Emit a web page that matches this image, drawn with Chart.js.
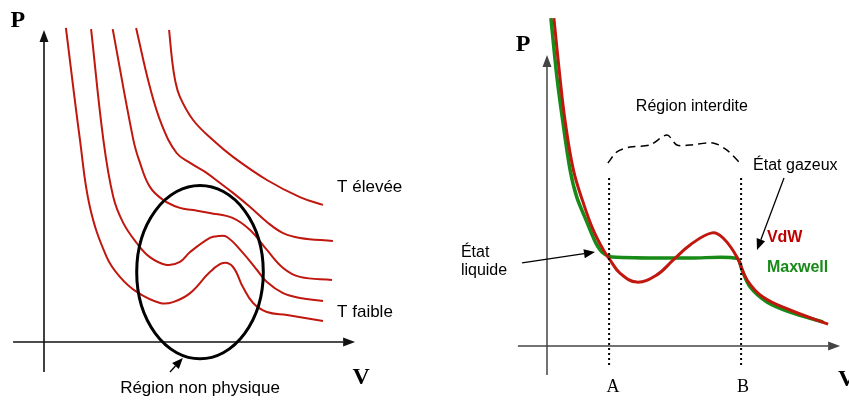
<!DOCTYPE html>
<html>
<head>
<meta charset="utf-8">
<script src="https://cdn.jsdelivr.net/npm/chart.js@4/dist/chart.umd.min.js"></script>
<style>
  body { margin: 0; background: #fff; }
  #wrap { position: relative; width: 849px; height: 401px; }
  canvas { position: absolute; top: 0; }
</style>
</head>
<body>
<div id="wrap">
  <canvas id="left" width="430" height="401" style="left:0"></canvas>
  <canvas id="right" width="419" height="401" style="left:430px"></canvas>
</div>
<script>
// Left panel: five isotherms, V and P in arbitrary units (lowest T first)
const t1V = [0.73, 1.2, 1.53, 2.09, 2.53, 3.09, 3.87, 4.3, 4.87, 5.53, 5.97, 6.3, 6.63, 6.97, 7.43, 8.1, 9.3];
const t1P = [10.47, 6.73, 4.5, 2.83, 2.17, 1.67, 1.3, 1.33, 1.63, 2.33, 2.63, 2.5, 1.83, 1.3, 1.0, 0.9, 0.7];
const t2V = [1.57, 1.98, 2.31, 2.64, 3.09, 3.53, 4.09, 4.53, 4.87, 5.53, 5.8, 6.1, 6.63, 7.1, 7.43, 7.97, 8.53, 9.3];
const t2P = [10.43, 6.73, 4.83, 3.97, 3.3, 2.83, 2.57, 2.67, 3.0, 3.47, 3.53, 3.5, 2.97, 2.4, 2.0, 1.63, 1.47, 1.37];
const t3V = [2.29, 2.98, 3.2, 3.53, 3.98, 4.53, 4.97, 5.53, 6.3, 6.87, 7.43, 7.97, 8.53, 9.6];
const t3P = [10.43, 6.73, 5.97, 5.17, 4.73, 4.47, 4.4, 4.3, 4.13, 3.73, 3.07, 2.47, 2.17, 2.07];
const t4V = [3.07, 3.53, 3.93, 4.42, 4.87, 5.37, 5.87, 6.3, 6.87, 7.43, 7.97, 8.53, 9.63];
const t4P = [10.47, 8.5, 7.23, 6.3, 5.97, 5.67, 5.3, 4.97, 4.5, 4.0, 3.63, 3.47, 3.37];
const t5V = [4.17, 4.27, 4.37, 4.53, 4.97, 5.63, 6.3, 7.43, 8.53, 9.3];
const t5P = [10.4, 9.4, 8.73, 8.17, 7.4, 6.73, 6.17, 5.4, 4.83, 4.57];

// Right panel: Van der Waals isotherm and Maxwell plateau
const vdwV = [0.23, 0.43, 0.6, 0.88, 1.21, 1.54, 1.88, 2.1, 2.43, 2.99, 3.66, 4.21, 4.77, 5.5, 5.87, 6.33, 6.67, 7.2, 8.1, 9.37];
const vdwP = [10.93, 8.97, 7.53, 5.87, 4.77, 3.87, 3.2, 2.87, 2.43, 2.13, 2.37, 2.87, 3.37, 3.77, 3.6, 2.97, 2.2, 1.63, 1.2, 0.73];
const maxV = [0.13, 0.33, 0.52, 0.77, 0.99, 1.33, 1.63, 1.87, 2.17, 4.77, 6.33, 6.5, 6.77, 7.33, 8.1, 9.2];
const maxP = [10.93, 8.97, 7.53, 5.87, 4.97, 4.13, 3.43, 3.1, 2.97, 2.93, 2.92, 2.53, 1.97, 1.47, 1.13, 0.8];
const braceV = [2.03, 2.33, 2.77, 3.43, 4.0, 4.33, 4.77, 5.53, 6.0, 6.43];
const braceP = [6.1, 6.47, 6.63, 6.7, 7.03, 6.7, 6.7, 6.77, 6.53, 6.1];
const pointA = 2.07;
const pointB = 6.47;

const pts = (vs, ps) => vs.map((v, i) => ({ x: v, y: ps[i] }));

const RED = "#c0170f";
const GREEN = "#178a17";
const SANS = "'Liberation Sans', Arial, sans-serif";
const SERIF = "'Liberation Serif', 'Times New Roman', serif";

function arrowHead(ctx, x1, y1, x2, y2, len, half) {
  const a = Math.atan2(y2 - y1, x2 - x1);
  const bx = x2 - len * Math.cos(a), by = y2 - len * Math.sin(a);
  ctx.beginPath();
  ctx.moveTo(x1, y1);
  ctx.lineTo(bx, by);
  ctx.stroke();
  ctx.beginPath();
  ctx.moveTo(x2, y2);
  ctx.lineTo(bx + half * Math.sin(a), by - half * Math.cos(a));
  ctx.lineTo(bx - half * Math.sin(a), by + half * Math.cos(a));
  ctx.closePath();
  ctx.fill();
}

// draws axes with arrows, texts, arrows and ellipse, all placed through the scales
const decor = {
  id: "decor",
  beforeDatasetsDraw(chart, args, opts) {
    const { ctx, scales: { x, y } } = chart;
    const ax = opts.axes;
    ctx.save();
    ctx.strokeStyle = ax.color;
    ctx.fillStyle = ax.color;
    ctx.lineWidth = ax.width;
    arrowHead(ctx, x.getPixelForValue(ax.x0), y.getPixelForValue(0),
      x.getPixelForValue(ax.x1), y.getPixelForValue(0), 12, 4.5);
    arrowHead(ctx, x.getPixelForValue(0), y.getPixelForValue(ax.y0),
      x.getPixelForValue(0), y.getPixelForValue(ax.y1), 12, 4.5);
    ctx.restore();
  },
  afterDatasetsDraw(chart, args, opts) {
    const { ctx, scales: { x, y } } = chart;
    ctx.save();
    if (opts.ellipse) {
      const e = opts.ellipse;
      const cx = x.getPixelForValue(e.v), cy = y.getPixelForValue(e.p);
      const rx = x.getPixelForValue(e.v + e.rv) - cx;
      const ry = cy - y.getPixelForValue(e.p + e.rp);
      ctx.beginPath();
      ctx.ellipse(cx, cy, rx, ry, 0, 0, Math.PI * 2);
      ctx.strokeStyle = "#000";
      ctx.lineWidth = 3;
      ctx.stroke();
    }
    (opts.arrows || []).forEach((a) => {
      ctx.strokeStyle = "#000";
      ctx.fillStyle = "#000";
      ctx.lineWidth = 1.3;
      arrowHead(ctx, x.getPixelForValue(a.v1), y.getPixelForValue(a.p1),
        x.getPixelForValue(a.v2), y.getPixelForValue(a.p2), 11, 4.5);
    });
    (opts.texts || []).forEach((t) => {
      ctx.font = t.font;
      ctx.fillStyle = t.color || "#000";
      ctx.textAlign = t.align || "left";
      ctx.textBaseline = "middle";
      ctx.fillText(t.text, x.getPixelForValue(t.v), y.getPixelForValue(t.p));
    });
    ctx.restore();
  },
};

function line(data, color, width, extra) {
  return Object.assign({
    data: data,
    borderColor: color,
    borderWidth: width,
    pointRadius: 0,
    tension: 0.4,
    fill: false,
  }, extra || {});
}

function options(xmin, xmax, ymin, ymax, decorOpts) {
  return {
    responsive: false,
    animation: false,
    layout: { padding: 0 },
    scales: {
      x: { type: "linear", min: xmin, max: xmax, display: false },
      y: { type: "linear", min: ymin, max: ymax, display: false },
    },
    plugins: { legend: { display: false }, tooltip: { enabled: false }, decor: decorOpts },
  };
}

new Chart(document.getElementById("left"), {
  type: "line",
  data: {
    datasets: [
      line(pts(t1V, t1P), RED, 2),
      line(pts(t2V, t2P), RED, 2),
      line(pts(t3V, t3P), RED, 2),
      line(pts(t4V, t4P), RED, 2),
      line(pts(t5V, t5P), RED, 2),
    ],
  },
  options: options(-44 / 30, 386 / 30, -59 / 30, 342 / 30, {
    axes: { x0: -1.03, x1: 10.37, y0: -1.0, y1: 10.4, color: "#111", width: 1.6 },
    ellipse: { v: 5.2, p: 2.33, rv: 2.11, rp: 2.89 },
    arrows: [{ v1: 4.2, p1: -1.0, v2: 4.63, p2: -0.53 }],
    texts: [
      { text: "P", v: -0.87, p: 10.7, font: "bold 24px " + SERIF, align: "center" },
      { text: "V", v: 10.57, p: -1.2, font: "bold 24px " + SERIF, align: "center" },
      { text: "T élevée", v: 9.77, p: 5.17, font: "17px " + SANS },
      { text: "T faible", v: 9.77, p: 1.0, font: "17px " + SANS },
      { text: "Région non physique", v: 5.2, p: -1.53, font: "17px " + SANS, align: "center" },
    ],
  }),
  plugins: [decor],
});

new Chart(document.getElementById("right"), {
  type: "line",
  data: {
    datasets: [
      line([{ x: pointA, y: 5.6 }, { x: pointA, y: -0.63 }], "#000", 2, { borderDash: [2, 3], tension: 0 }),
      line([{ x: pointB, y: 5.6 }, { x: pointB, y: -0.63 }], "#000", 2, { borderDash: [2, 3], tension: 0 }),
      line(pts(braceV, braceP), "#000", 1.5, { borderDash: [8, 5], tension: 0.3 }),
      line(pts(vdwV, vdwP), RED, 3),
      line(pts(maxV, maxP), GREEN, 3.5, { tension: 0.3 }),
    ],
  },
  options: options(-117 / 30, 302 / 30, -55 / 30, 346 / 30, {
    axes: { x0: -0.97, x1: 9.77, y0: -0.97, y1: 9.7, color: "#444", width: 1.5 },
    arrows: [
      { v1: -0.83, p1: 2.77, v2: 1.6, p2: 3.13 },
      { v1: 7.9, p1: 5.6, v2: 7.0, p2: 3.2 },
    ],
    texts: [
      { text: "P", v: -0.8, p: 10.03, font: "bold 24px " + SERIF, align: "center" },
      { text: "V", v: 9.7, p: -1.13, font: "bold 24px " + SERIF },
      { text: "A", v: 2.2, p: -1.37, font: "18px " + SERIF, align: "center" },
      { text: "B", v: 6.53, p: -1.37, font: "18px " + SERIF, align: "center" },
      { text: "Région interdite", v: 4.83, p: 7.97, font: "16px " + SANS, align: "center" },
      { text: "État gazeux", v: 6.87, p: 6.03, font: "16px " + SANS },
      { text: "VdW", v: 7.33, p: 3.6, font: "bold 16px " + SANS, color: "#c00000" },
      { text: "Maxwell", v: 7.33, p: 2.63, font: "bold 16px " + SANS, color: GREEN },
      { text: "État", v: -2.87, p: 3.13, font: "16px " + SANS },
      { text: "liquide", v: -2.87, p: 2.5, font: "16px " + SANS },
    ],
  }),
  plugins: [decor],
});
</script>
</body>
</html>
